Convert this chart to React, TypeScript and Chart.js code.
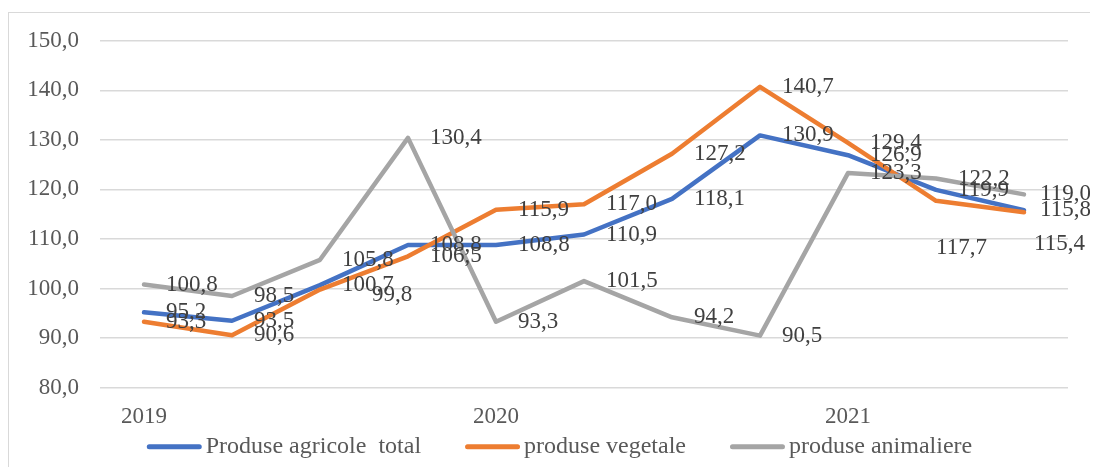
import React, { useEffect, useRef } from 'react';
import { Chart, registerables } from 'chart.js';

Chart.register(...registerables);

// ---- data ----
const periods = ['2019', '', '', '', '2020', '', '', '', '2021', '', ''];
const totalAgricol = [95.2, 93.5, 100.7, 108.8, 108.8, 110.9, 118.1, 130.9, 126.9, 119.9, 115.8];
const vegetale = [93.3, 90.6, 99.8, 106.5, 115.9, 117.0, 127.2, 140.7, 129.4, 117.7, 115.4];
const animaliere = [100.8, 98.5, 105.8, 130.4, 93.3, 101.5, 94.2, 90.5, 123.3, 122.2, 119.0];
const seriesNames = ['Produse agricole  total', 'produse vegetale', 'produse animaliere'];
const yMin = 80;
const yMax = 150;
const yStep = 10;

// ---- styling ----
const FONT = '"Liberation Serif", "Times New Roman", serif';
const FONT_SIZE = 23;
const LEGEND_FONT_SIZE = 24;
const COLORS = ['#4472C4', '#ED7D31', '#A5A5A5'];
// manual label moves (dataset:index -> [dx, dy]) as in the source chart
const labelNudges: Record<string, [number, number]> = {
  '0:10': [-6, 0],
  '2:10': [-6, 0],
  '1:2': [30, 5],
  '1:9': [-22, 47],
  '1:10': [-12, 32],
};

const fmt = (v: number) => v.toFixed(1).replace('.', ',');

const dataLabelPlugin = {
  id: 'dataLabels',
  afterDatasetsDraw(chart: any) {
    const ctx = chart.ctx;
    ctx.save();
    ctx.font = `${FONT_SIZE}px ${FONT}`;
    ctx.fillStyle = '#404040';
    ctx.textAlign = 'left';
    ctx.textBaseline = 'middle';
    chart.data.datasets.forEach((ds: any, di: number) => {
      const meta = chart.getDatasetMeta(di);
      meta.data.forEach((pt: any, i: number) => {
        const n = labelNudges[`${di}:${i}`] || [0, 0];
        ctx.fillText(fmt(ds.data[i]), pt.x + 22 + n[0], pt.y + n[1]);
      });
    });
    ctx.restore();
  },
};

const legendPlugin = {
  id: 'bottomLegend',
  afterDraw(chart: any) {
    const ctx = chart.ctx;
    ctx.save();
    ctx.font = `${LEGEND_FONT_SIZE}px ${FONT}`;
    const sw = 55;
    const gapText = 4;
    const gapItem = 44;
    const items = chart.data.datasets.map((ds: any) => ({
      text: ds.label,
      color: ds.borderColor,
      w: ctx.measureText(ds.label).width,
    }));
    const total =
      items.reduce((s: number, it: any) => s + sw + gapText + it.w, 0) + gapItem * (items.length - 1);
    let x = chart.width / 2 - total / 2 + 6;
    const y = chart.chartArea.bottom + 59;
    items.forEach((it: any) => {
      ctx.strokeStyle = it.color;
      ctx.lineWidth = 5;
      ctx.lineCap = 'round';
      ctx.beginPath();
      ctx.moveTo(x + 2.5, y);
      ctx.lineTo(x + sw - 2.5, y);
      ctx.stroke();
      ctx.fillStyle = '#595959';
      ctx.textAlign = 'left';
      ctx.textBaseline = 'middle';
      ctx.fillText(it.text, x + sw + gapText, y);
      x += sw + gapText + it.w + gapItem;
    });
    ctx.restore();
  },
};

export default function App() {
  const canvasRef = useRef<HTMLCanvasElement | null>(null);

  useEffect(() => {
    document.documentElement.style.overflow = 'hidden';
    const canvas = canvasRef.current;
    if (!canvas) return;
    const seriesData = [totalAgricol, vegetale, animaliere];
    const chart = new Chart(canvas, {
      type: 'line',
      data: {
        labels: periods,
        datasets: seriesData.map((d, i) => ({
          label: seriesNames[i],
          data: d,
          borderColor: COLORS[i],
          backgroundColor: COLORS[i],
          borderWidth: 4.5,
          pointRadius: 0,
          pointHoverRadius: 0,
          tension: 0,
          borderJoinStyle: 'round' as const,
          borderCapStyle: 'round' as const,
          order: 3 - i,
        })),
      },
      options: {
        animation: false,
        responsive: true,
        maintainAspectRatio: false,
        layout: { padding: { left: 0, right: 30, top: 27.7, bottom: 42.3 } },
        plugins: {
          legend: { display: false },
          tooltip: { enabled: false },
        },
        scales: {
          x: {
            offset: true,
            grid: { display: false, drawTicks: false },
            border: { display: false },
            ticks: {
              autoSkip: false,
              maxRotation: 0,
              padding: 15,
              color: '#595959',
              font: { family: FONT, size: FONT_SIZE },
            },
            afterFit(scale: any) {
              scale.height = 45;
            },
          },
          y: {
            min: yMin,
            max: yMax,
            ticks: {
              stepSize: yStep,
              padding: 21,
              color: '#595959',
              font: { family: FONT, size: FONT_SIZE },
              callback: (v: any) => fmt(Number(v)),
            },
            grid: { color: '#d9d9d9', lineWidth: 1.5, drawTicks: false },
            border: { display: false },
            afterFit(scale: any) {
              scale.width = 91;
              scale.paddingTop = 10;
              scale.paddingBottom = 10;
            },
          },
        },
      },
      plugins: [dataLabelPlugin, legendPlugin],
    });
    return () => chart.destroy();
  }, []);

  return (
    <div style={{ paddingTop: 4, marginBottom: -8 }}>
      <div
        style={{
          width: 1089,
          height: 462,
          borderTop: '1px solid #d9d9d9',
          borderLeft: '1px solid #d9d9d9',
          position: 'relative',
        }}
      >
        <canvas ref={canvasRef} />
      </div>
    </div>
  );
}
